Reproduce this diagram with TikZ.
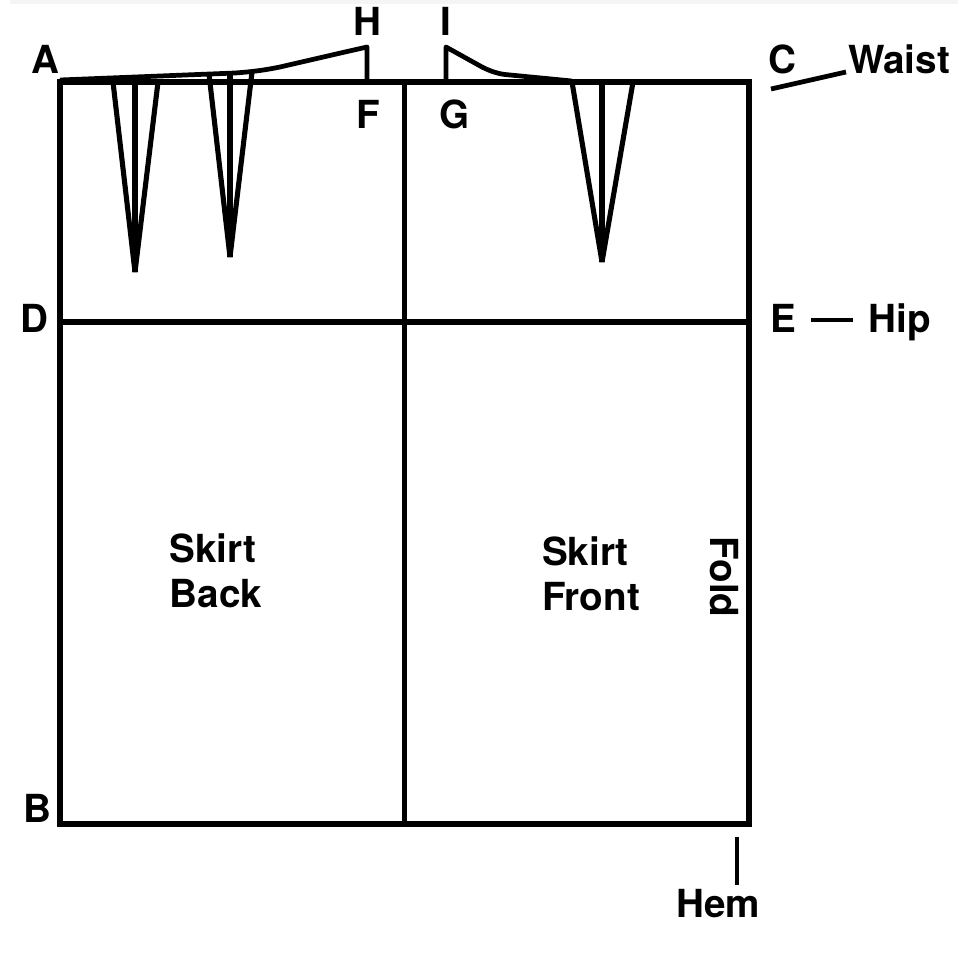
\documentclass[tikz,border=0pt]{standalone}
\usepackage{fontspec}
\setmainfont{TeX Gyre Heros}
\usetikzlibrary{positioning, calc}
\definecolor{stripcolor}{RGB}{245, 245, 245}
\tikzset{
    % Pattern lines
    patline/.style={line width=3pt, black, line join=miter},
    dartline/.style={line width=2.9pt, black, line join=bevel},
    curveline/.style={line width=2.7pt, black, line join=round},
    leader/.style={line width=2.7pt, black},
    % Labels
    ptlabel/.style={font=\fontsize{22}{25.5}\selectfont\bfseries, inner sep=0pt, anchor=base, text=black},
    piecelabel/.style={font=\fontsize{22}{25.5}\selectfont\bfseries, inner sep=0pt, align=left, text=black},
}
\begin{document}
\begin{tikzpicture}[x=0.02cm, y=-0.02cm]

\useasboundingbox (0,0) rectangle (958,958);
\fill[stripcolor] (10,0) rectangle (958,4);

% Skirt outline
\coordinate (ptA) at (60,82);
\coordinate (ptB) at (60,824);
\coordinate (ptC) at (749,82);
\coordinate (ptHem) at (749,824);
\coordinate (ptD) at (60,322);
\coordinate (ptE) at (749,322);
\coordinate (ptTop) at (404.5,82);
\coordinate (ptBot) at (404.5,824);

\draw[patline] (ptA) rectangle (ptHem);
\draw[patline] (ptD) -- (ptE);
\draw[patline] (ptTop) -- (ptBot);

% Back waist curve
\coordinate (ptF) at (367,82);
\coordinate (ptH) at (367,47);
\draw[curveline] (60,80) -- (235,73) .. controls (255,71.5) and (265,70) .. (280,67) -- (345,52) -- (ptH) -- (ptF);

% Front waist curve
\coordinate (ptG) at (446,82);
\coordinate (ptI) at (446,47);
\draw[curveline] (ptG) -- (ptI) -- (482,67) .. controls (490,71) and (497,73.5) .. (505,74.5) -- (572,81);

% Back darts
\draw[dartline] (113,82) -- (135,272) -- (158,82);
\draw[dartline] (135,82) -- (135,272);
\draw[dartline] (209,74) -- (230,257) -- (252,72);
\draw[dartline] (230,74) -- (230,257);

% Front dart
\draw[dartline] (572,82) -- (602,262) -- (633,82);
\draw[dartline] (602,82) -- (602,262);

% Point letters
\node (lblA) [ptlabel] at (45,73) {A};
\node (lblB) [ptlabel] at (37,822) {B};
\node (lblC) [ptlabel] at (782,73) {C};
\node (lblD) [ptlabel] at (34,332) {D};
\node (lblE) [ptlabel] at (783,332) {E};
\node (lblF) [ptlabel] at (368,128) {F};
\node (lblG) [ptlabel] at (455,128) {G};
\node (lblH) [ptlabel] at (367,35) {H};
\node (lblI) [ptlabel] at (446,35) {I};

% Line names
\node (waist) [ptlabel] at (899,73) {Waist};
\node (hip) [ptlabel] at (900,332) {Hip};
\node (hem) [ptlabel] at (718,917) {Hem};
\node (fold) [ptlabel, rotate=-90] at (710,577) {Fold};

% Leaders
\coordinate (waistA) at (771,89);
\coordinate (waistB) at (846,72);
\coordinate (hipA) at (811,320);
\coordinate (hipB) at (853,320);
\coordinate (hemA) at (737,837);
\coordinate (hemB) at (737,885);
\draw[leader] (waistA) -- (waistB);
\draw[leader] (hipA) -- (hipB);
\draw[leader] (hemA) -- (hemB);

% Piece names
\node (back) [piecelabel] at (216,571) {Skirt\\Back};
\node (front) [piecelabel] at (591,574) {Skirt\\Front};

\end{tikzpicture}
\end{document}
